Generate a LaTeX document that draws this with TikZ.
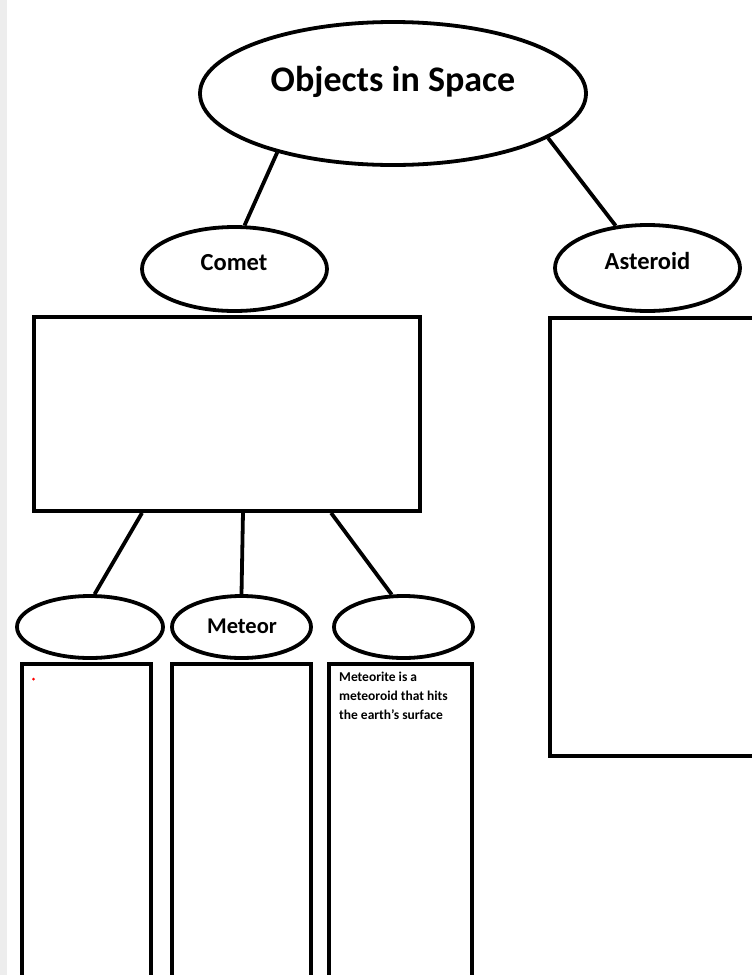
\documentclass[tikz,border=0pt]{standalone}
\usepackage{fontspec}
\setmainfont{Carlito}
\usetikzlibrary{shapes.geometric,calc}
\definecolor{stripgray}{HTML}{EDEDED}
\tikzset{
  oval/.style={draw=black, line width=3.8pt, ellipse, fill=white, inner sep=0pt},
  framebox/.style={draw=black, line width=3.8pt, rectangle, inner sep=0pt},
  link/.style={draw=black, line width=3.8pt},
  lbl/.style={inner sep=0pt, anchor=base, font=\bfseries},
}
\begin{document}
\begin{tikzpicture}[x=1pt, y=-1pt]
\useasboundingbox (0,0) rectangle (752,975);
\clip (0,0) rectangle (752,975);
\fill[white] (0,0) rectangle (752,975);
\fill[stripgray] (0,0) rectangle (7,975);

% rectangles
\node[framebox, minimum width=386pt, minimum height=194pt] (crect) at (227,414) {};
\node[framebox, minimum width=220pt, minimum height=438pt] (arect) at (660,537) {};
\node[framebox, minimum width=129pt, minimum height=336pt] (r1) at (86.5,832) {};
\node[framebox, minimum width=139pt, minimum height=336pt] (r2) at (241.5,832) {};
\node[framebox, minimum width=143pt, minimum height=336pt] (r3) at (400.5,832) {};

% ellipses
\node[oval, minimum width=386pt, minimum height=143pt] (top) at (393,93.5) {};
\node[oval, minimum width=185pt, minimum height=84pt] (comet) at (234.5,269) {};
\node[oval, minimum width=185pt, minimum height=86pt] (ast) at (647.5,268) {};
\node[oval, minimum width=146pt, minimum height=62pt] (e1) at (90,627) {};
\node[oval, minimum width=139pt, minimum height=62pt] (e2) at (241.5,627) {};
\node[oval, minimum width=139pt, minimum height=62pt] (e3) at (403.5,627) {};

% labels
\node[lbl, font=\bfseries\fontsize{36}{40}\selectfont] (ttop) at (393,91.5) {Objects in Space};
\node[lbl, font=\bfseries\fontsize{24.5}{28}\selectfont] (tcomet) at (234,270) {Comet};
\node[lbl, font=\bfseries\fontsize{24.5}{28}\selectfont] (tast) at (647.5,269) {Asteroid};
\node[lbl, font=\bfseries\fontsize{22.5}{26}\selectfont] (tmet) at (242,633) {Meteor};
\node[lbl, anchor=base west, font=\bfseries\fontsize{13.5}{19}\selectfont] (tm1) at (339,681) {Meteorite is a};
\node[lbl, anchor=base west, font=\bfseries\fontsize{13.5}{19}\selectfont] (tm2) at (339,700) {meteoroid that hits};
\node[lbl, anchor=base west, font=\bfseries\fontsize{13.5}{19}\selectfont] (tm3) at (339,719) {the earth’s surface};
\node[circle, fill=red, inner sep=0pt, minimum size=3pt] (dot) at (33.5,679) {};

% connectors
\draw[link] (top.207) -- (comet.77);
\draw[link] (top.-16) -- (ast.127);
\draw[link] ($(crect.south west)!0.282!(crect.south east)$) -- (e1.82);
\draw[link] ($(crect.south west)!0.541!(crect.south east)$) -- (e2.north);
\draw[link] ($(crect.south west)!0.767!(crect.south east)$) -- (e3.110);
\end{tikzpicture}
\end{document}
